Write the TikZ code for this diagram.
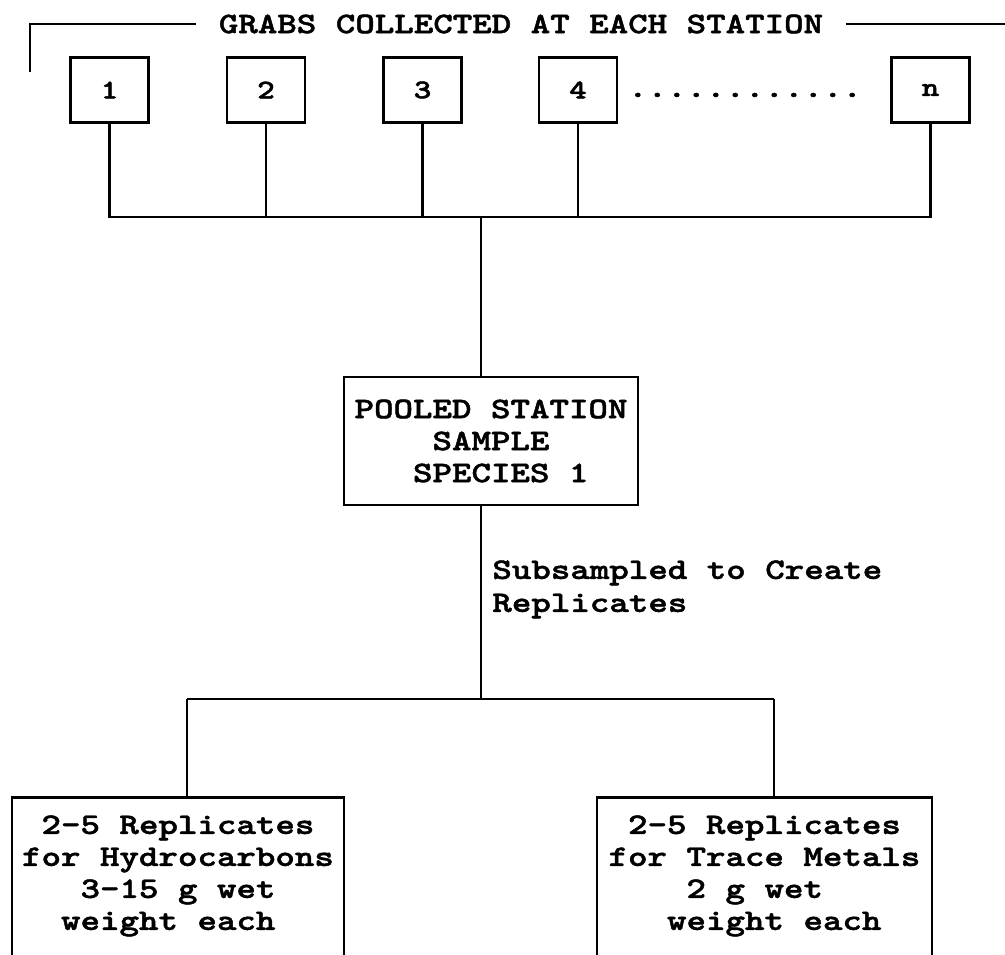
\documentclass[tikz,border=0pt]{standalone}
\usepackage{fontspec}
\newfontfamily\typer{lmmono10-regular.otf}[BoldFont=lmmonolt10-bold.otf,BoldFeatures={FakeBold=1.6},FakeStretch=1.25,Ligatures=NoCommon]
\usepackage{tikz}
\usetikzlibrary{positioning,calc}

\begin{document}
\begin{tikzpicture}[
    x=0.5pt,y=-0.5pt,
    every node/.style={font=\typer\bfseries\fontsize{14.85pt}{16pt}\selectfont},
    link/.style ={line width=1.1pt},
    bar/.style  ={line width=1.4pt},
    grab/.style ={draw,line width=1.4pt,minimum width=39pt,minimum height=32.5pt,
                  inner sep=0pt,font=\typer\bfseries\fontsize{13.5pt}{13.5pt}\selectfont},
    pool/.style ={draw,line width=1.4pt,minimum width=147pt,minimum height=64pt,
                  align=center,inner sep=0pt},
    rep/.style  ={draw,line width=1.4pt,anchor=north,align=center,
                  inner xsep=0pt,inner ysep=9pt,text depth=40pt},
  ]
  \useasboundingbox (0,0) rectangle (1005,954);
  \clip (0,0) rectangle (1005,954);

  % header bracket
  \node[inner xsep=11pt,inner ysep=0pt] (title) at (521,24) {GRABS COLLECTED AT EACH STATION};
  \draw[bar] (30,72) |- (title.west);
  \draw[link] (title.east) -- ++(200,0);

  % grabs
  \node[grab] (g1) at (109.5,90) {1};
  \node[grab] (g2) at (266,90)   {2};
  \node[grab] (g3) at (422.5,90) {3};
  \node[grab] (g4) at (578,90)   {4};
  \node[grab] (gn) at (930.5,90) {n};
  \node[anchor=base,inner sep=0pt] (dots) at (745,97) {............};

  % pooling
  \coordinate (bus) at (481,217);
  \foreach \g in {g1,g2,g3,g4,gn}
     \draw[link] (\g.south) |- (bus);

  \node[pool] (pooled) at (491,441) {POOLED STATION\\SAMPLE\\\hphantom{0}SPECIES 1};
  \draw[link] (bus) -- (bus |- pooled.north);

  % subsampling
  \coordinate (split) at (481,699);
  \draw[link] (pooled.south -| split) -- (split);
  \node[anchor=north west,align=left,inner sep=0pt,
        font=\typer\bfseries\fontsize{14.85pt}{16.5pt}\selectfont] (subs) at (492,560)
     {Subsampled to Create\\Replicates};

  \node[rep,minimum width=166pt]   (hydro) at (178,796)
     {2-5 Replicates\\for Hydrocarbons\\3-15 g wet\\weight each\hphantom{0}};
  \node[rep,minimum width=167.5pt] (metal) at (764.5,796)
     {2-5 Replicates\\for Trace Metals\\2 g wet\hphantom{0}\\\hphantom{0}weight each};

  \coordinate (lft) at (187,699);
  \coordinate (rgt) at (774,699);
  \draw[link] (lft) -- (rgt);
  \draw[link] (lft) -- (lft |- hydro.north);
  \draw[link] (rgt) -- (rgt |- metal.north);
\end{tikzpicture}
\end{document}
